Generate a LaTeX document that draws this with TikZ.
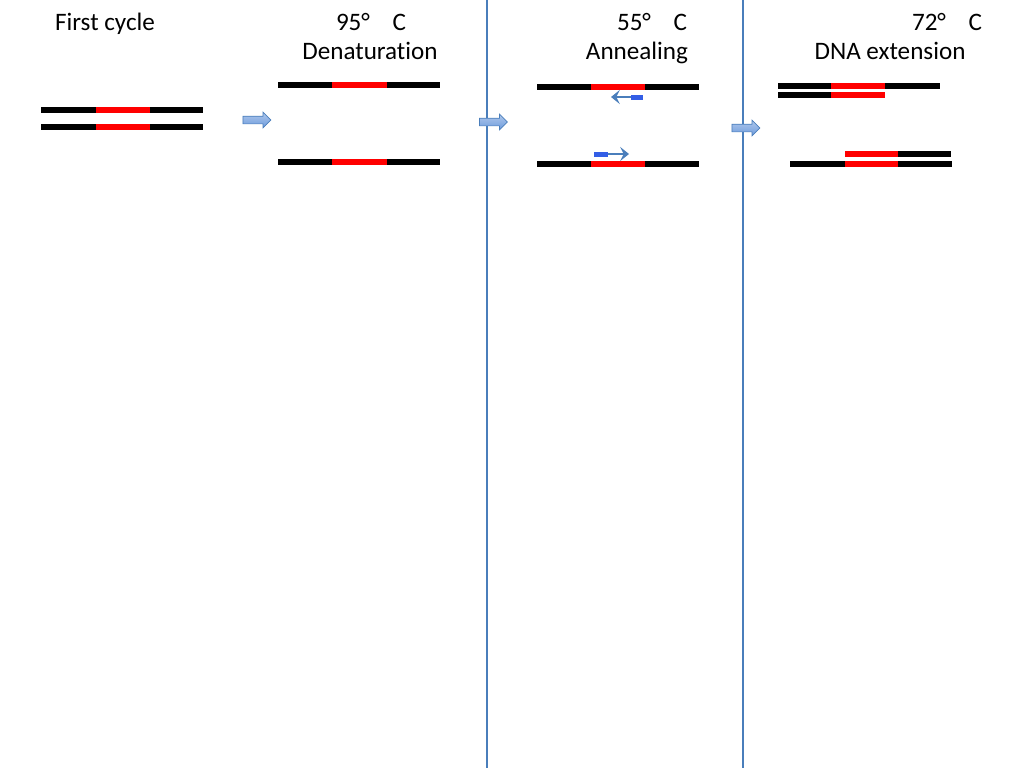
\documentclass[tikz,border=0pt]{standalone}
\usepackage{fontspec}
\setmainfont[Ligatures=NoCommon]{Carlito}
\usetikzlibrary{shapes.arrows,arrows.meta}
\definecolor{lineblue}{RGB}{74,126,187}
\definecolor{primerblue}{RGB}{51,94,230}
\definecolor{arrowfill}{RGB}{110,155,220}
\begin{document}
\begin{tikzpicture}
    [x=0.02cm,y=-0.02cm,
     Strand/.style={line width=3.4pt,black},
     Target/.style={line width=3.4pt,red},
     Label/.style={font=\fontsize{14.3}{16}\selectfont,inner sep=0pt,anchor=base},
     StageArrow/.style={single arrow,draw=lineblue,line width=0.4pt,
        top color=arrowfill!55,bottom color=arrowfill,
        minimum height=0.56cm,minimum width=0.3cm,
        inner xsep=0pt,inner ysep=0.07cm,single arrow head extend=0.08cm},
     Divider/.style={lineblue,line width=1.4pt},
     Primer/.style={primerblue},
     Extend/.style={lineblue,line width=1.5pt,-{Stealth[length=5pt,width=8pt,inset=2pt]}}];
    \useasboundingbox (0,0) rectangle (1024,768);
    % titles
    \node[Label] (cycle) at (105,30){First cycle};
    \node[Label] (temp1) at (371,30){95°\hspace{0.9em}C};
    \node[Label] (name1) at (370,59){Denaturation};
    \node[Label] (temp2) at (652,30){55°\hspace{0.9em}C};
    \node[Label] (name2) at (637,59){Annealing};
    \node[Label] (temp3) at (947,30){72°\hspace{0.9em}C};
    \node[Label] (name3) at (890,59){DNA extension};
    % dividers
    \coordinate (top1) at (487,0);
    \coordinate (bot1) at (487,768);
    \coordinate (top2) at (743,0);
    \coordinate (bot2) at (743,768);
    \draw[Divider] (top1) -- (bot1);
    \draw[Divider] (top2) -- (bot2);
    % double strand
    \draw[Strand] (41,110) -- (203,110);
    \draw[Target] (96,110) -- (150,110);
    \draw[Strand] (41,127) -- (203,127);
    \draw[Target] (96,127) -- (150,127);
    % denaturation
    \draw[Strand] (278,85) -- (440,85);
    \draw[Target] (332,85) -- (387,85);
    \draw[Strand] (278,162) -- (440,162);
    \draw[Target] (332,162) -- (387,162);
    % annealing
    \draw[Strand] (537,87) -- (699,87);
    \draw[Target] (591,87) -- (645,87);
    \draw[Strand] (537,164) -- (699,164);
    \draw[Target] (591,164) -- (645,164);
    \fill[Primer] (631,94.5) rectangle (643,99.5);
    \coordinate (p1) at (631,97);
    \coordinate (q1) at (611,97);
    \draw[Extend] (p1) -- (q1);
    \fill[Primer] (594,151.5) rectangle (608,156.5);
    \coordinate (p2) at (608,154);
    \coordinate (q2) at (629,154);
    \draw[Extend] (p2) -- (q2);
    % extension
    \draw[Strand] (778,86) -- (940,86);
    \draw[Target] (831,86) -- (885,86);
    \draw[Strand] (778,95) -- (831,95);
    \draw[Target] (831,95) -- (885,95);
    \draw[Target] (845,154) -- (898,154);
    \draw[Strand] (898,154) -- (951,154);
    \draw[Strand] (790,164) -- (952,164);
    \draw[Target] (845,164) -- (898,164);
    % stage arrows
    \node[StageArrow] (go1) at (255,120){};
    \node[StageArrow] (go2) at (491.5,122){};
    \node[StageArrow] (go3) at (744,128){};
\end{tikzpicture}
\end{document}
